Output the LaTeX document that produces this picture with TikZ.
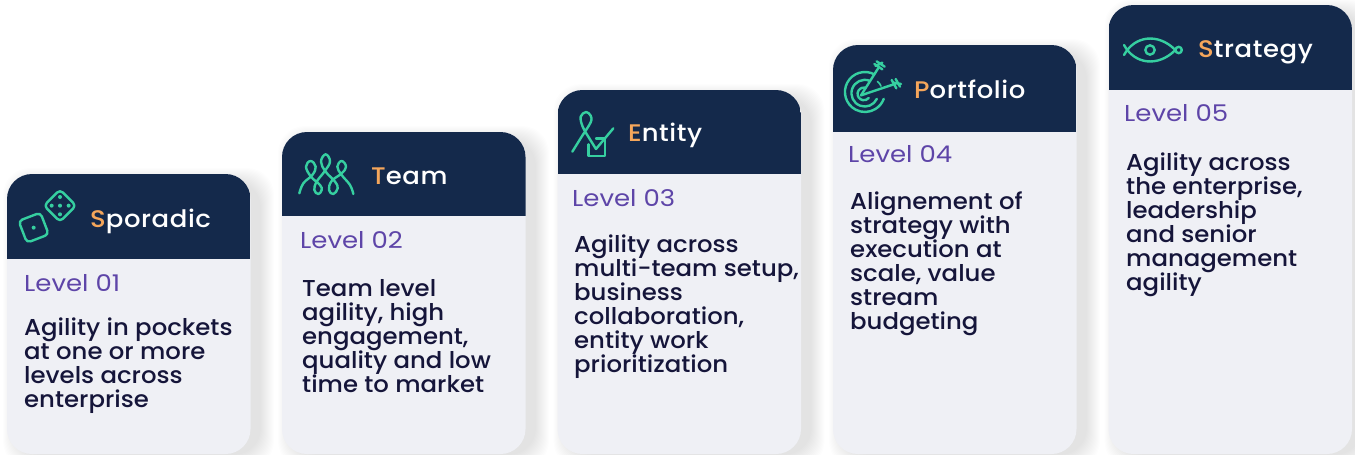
\documentclass[tikz,border=0pt]{standalone}
\usepackage{fontspec}
\setmainfont{Poppins}
\newfontfamily\medf[FakeStretch=1.06]{Poppins Medium}
\newfontfamily\levf[FakeStretch=1.13]{Poppins}
\newfontfamily\headf[FakeStretch=1.08,LetterSpace=2.5]{Poppins Medium}
\definecolor{navy}{HTML}{14294B}
\definecolor{cardbg}{HTML}{EFF0F5}
\definecolor{mint}{HTML}{36CFA0}
\definecolor{peach}{HTML}{F5A65B}
\definecolor{lvl}{HTML}{5E45A8}
\definecolor{ink}{HTML}{15153A}
\newcommand{\cardshape}[4]{% name x top headerbottom
  \foreach \i in {1,...,14}{
    \fill[black,opacity=0.006,rounded corners=27pt] (#2+10-\i,#3+8-\i) rectangle (#2+243+10+\i,454+\i);
  }
  \fill[cardbg,rounded corners=25pt] (#2,#3) rectangle (#2+243.5,454);
  \begin{scope}
    \clip[rounded corners=25pt] (#2,#3) rectangle (#2+243.5,454);
    \fill[navy] (#2,#3) rectangle (#2+243.5,#4);
  \end{scope}
}
\newcommand{\fl}[1]{\textcolor{peach}{#1}}
\tikzset{
  x=1pt,y=-1pt,
  headtxt/.style={anchor=base west,inner sep=0pt,text=white,font=\headf\fontsize{24}{24}\selectfont},
  lvltxt/.style={anchor=base west,inner sep=0pt,text=lvl,font=\levf\fontsize{23}{24}\selectfont},
  bodytxt/.style={anchor=north west,inner sep=0pt,text=ink,align=left,font=\medf\fontsize{23}{24}\selectfont},
  icon/.style={draw=mint,line width=2.4pt,line cap=round,line join=round},
  dot/.style={fill=mint},
}
\begin{document}
\begin{tikzpicture}
\useasboundingbox (0,0) rectangle (1355,455);
\fill[white] (0,0) rectangle (1355,455);
\cardshape{a}{7}{174}{259}
\cardshape{b}{282}{132}{216}
\cardshape{c}{557.5}{90}{174}
\cardshape{d}{833}{45}{132}
\cardshape{e}{1108.5}{5}{90}

\node[headtxt] (h1) at (90,227) {\fl{S}poradic};
\node[headtxt] (h2) at (371,184) {\fl{T}eam};
\node[headtxt] (h3) at (628,141) {\fl{E}ntity};
\node[headtxt] (h4) at (914,98) {\fl{P}ortfolio};
\node[headtxt] (h5) at (1198,57) {\fl{S}trategy};

\node[lvltxt] (l1) at (24,291) {Level 01};
\node[lvltxt] (l2) at (300,248) {Level 02};
\node[lvltxt] (l3) at (572,206) {Level 03};
\node[lvltxt] (l4) at (848,162) {Level 04};
\node[lvltxt] (l5) at (1124,121) {Level 05};

\node[bodytxt] (b1) at (24,317.5) {Agility in pockets\\at one or more\\levels across\\enterprise};
\node[bodytxt] (b2) at (302,279.5) {Team level\\agility, high\\engagement,\\quality and low\\time to market};
\node[bodytxt] (b3) at (574,235) {Agility across\\multi-team setup,\\business\\collaboration,\\entity work\\prioritization};
\node[bodytxt] (b4) at (850,192) {Alignement of\\strategy with\\execution at\\scale, value\\stream\\budgeting};
\node[bodytxt] (b5) at (1126,153) {Agility across\\the enterprise,\\leadership\\and senior\\management\\agility};

% dice
\begin{scope}[shift={(0,165)},scale=1/3]
  \draw[icon,rounded corners=4pt,rotate around={21:(101,188)}] (66,153) rectangle (136,223);
  \fill[dot] (101,188) circle[radius=6];
  \draw[icon,rounded corners=4pt,rotate around={45:(180,122)}] (146,88) rectangle (214,156);
  \foreach \p in {(180,122),(180,96),(206,122),(180,148),(155,122)} \fill[dot] \p circle[radius=6];
\end{scope}
% team
\begin{scope}[shift={(275,125)},scale=1/3]
  \draw[icon] plot[smooth,tension=0.7] coordinates {(73,205) (85,175) (112,150) (122,125) (107,108) (93,125) (108,155) (135,180) (140,195) (130,207) (118,195) (125,170) (148,140) (165,110) (152,88) (138,110) (152,140) (180,170) (188,190) (175,207) (162,195) (170,168) (200,145) (213,125) (200,108) (187,125) (200,150) (225,180) (235,207)};
\end{scope}
% entity
\begin{scope}[shift={(550,85)},scale=1/3]
  \draw[icon] plot[smooth,tension=0.6] coordinates {(67,200) (95,155) (122,112) (122,92) (108,81) (92,95) (98,125) (118,160)};
  \draw[icon] (118,160) -- (138,192) -- (190,130);
  \draw[icon] (115,178) -- (115,213) -- (165,213) -- (165,161) -- (138,161);
\end{scope}
% portfolio
\begin{scope}[shift={(825,40)},scale=1/3]
  \draw[icon] (148,103) arc[start angle=-62,end angle=-340,radius=60];
  \draw[icon] (133,122) arc[start angle=-70,end angle=-335,radius=40];
  \draw[icon] (120,143) arc[start angle=-80,end angle=-320,radius=19];
  \draw[icon,line width=1.6pt] (157,124) arc[start angle=-55,end angle=-20,radius=30];
  \draw[icon] (108,166) -- (160,84);
  \draw[icon] (108,166) -- (212,131);
  \draw[icon] (148,72) -- (172,88);
  \draw[icon] (155,64) -- (179,80);
  \draw[icon] (152,78) -- (172,68);
  \draw[icon] (200,120) -- (214,145);
  \draw[icon] (212,117) -- (225,140);
  \draw[icon] (205,128) -- (228,132);
\end{scope}
% strategy
\begin{scope}[shift={(1100,0)},scale=1/3]
  \draw[icon] (72,165) .. controls (105,105) and (175,100) .. (224,148);
  \draw[icon] (72,135) .. controls (105,195) and (175,200) .. (224,152);
  \draw[icon] (150,150) circle[radius=14];
  \draw[icon] (236,150) circle[radius=9.5];
\end{scope}
\end{tikzpicture}
\end{document}
